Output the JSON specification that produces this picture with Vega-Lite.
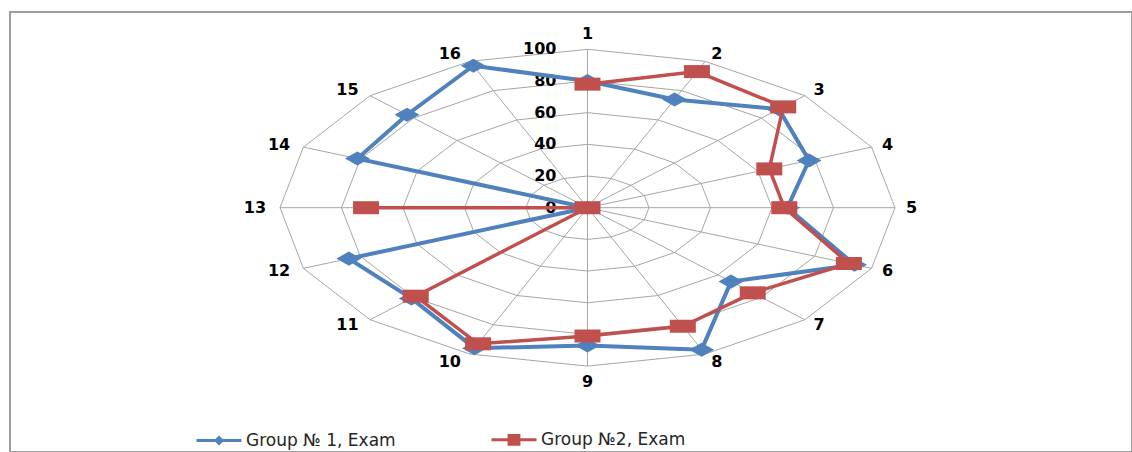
{
  "$schema": "https://vega.github.io/schema/vega-lite/v6.json",
  "width": 1122,
  "height": 440,
  "autosize": {"type": "none"},
  "padding": {"left": 10, "top": 12, "right": 0, "bottom": 0},
  "background": "white",
  "config": {"view": {"stroke": "#9E9E9E", "strokeWidth": 2}, "font": "DejaVu Sans"},
  "datasets": {
    "scores": [
      {"cat": 1, "series": "Group № 1, Exam", "value": 80},
      {"cat": 2, "series": "Group № 1, Exam", "value": 74},
      {"cat": 3, "series": "Group № 1, Exam", "value": 88},
      {"cat": 4, "series": "Group № 1, Exam", "value": 78},
      {"cat": 5, "series": "Group № 1, Exam", "value": 65},
      {"cat": 6, "series": "Group № 1, Exam", "value": 94},
      {"cat": 7, "series": "Group № 1, Exam", "value": 66},
      {"cat": 8, "series": "Group № 1, Exam", "value": 97},
      {"cat": 9, "series": "Group № 1, Exam", "value": 87},
      {"cat": 10, "series": "Group № 1, Exam", "value": 96},
      {"cat": 11, "series": "Group № 1, Exam", "value": 81},
      {"cat": 12, "series": "Group № 1, Exam", "value": 84},
      {"cat": 13, "series": "Group № 1, Exam", "value": 0},
      {"cat": 14, "series": "Group № 1, Exam", "value": 81},
      {"cat": 15, "series": "Group № 1, Exam", "value": 83},
      {"cat": 16, "series": "Group № 1, Exam", "value": 97},
      {"cat": 1, "series": "Group №2, Exam", "value": 78},
      {"cat": 2, "series": "Group №2, Exam", "value": 93},
      {"cat": 3, "series": "Group №2, Exam", "value": 90},
      {"cat": 4, "series": "Group №2, Exam", "value": 64},
      {"cat": 5, "series": "Group №2, Exam", "value": 64},
      {"cat": 6, "series": "Group №2, Exam", "value": 92},
      {"cat": 7, "series": "Group №2, Exam", "value": 76},
      {"cat": 8, "series": "Group №2, Exam", "value": 81},
      {"cat": 9, "series": "Group №2, Exam", "value": 81},
      {"cat": 10, "series": "Group №2, Exam", "value": 93},
      {"cat": 11, "series": "Group №2, Exam", "value": 79},
      {"cat": 12, "series": "Group №2, Exam", "value": 0},
      {"cat": 13, "series": "Group №2, Exam", "value": 72}
    ],
    "axes": [
      {"cat": 1, "label": "1", "rings": [20, 40, 60, 80, 100]},
      {"cat": 2, "label": "2", "rings": [20, 40, 60, 80, 100]},
      {"cat": 3, "label": "3", "rings": [20, 40, 60, 80, 100]},
      {"cat": 4, "label": "4", "rings": [20, 40, 60, 80, 100]},
      {"cat": 5, "label": "5", "rings": [20, 40, 60, 80, 100]},
      {"cat": 6, "label": "6", "rings": [20, 40, 60, 80, 100]},
      {"cat": 7, "label": "7", "rings": [20, 40, 60, 80, 100]},
      {"cat": 8, "label": "8", "rings": [20, 40, 60, 80, 100]},
      {"cat": 9, "label": "9", "rings": [20, 40, 60, 80, 100]},
      {"cat": 10, "label": "10", "rings": [20, 40, 60, 80, 100]},
      {"cat": 11, "label": "11", "rings": [20, 40, 60, 80, 100]},
      {"cat": 12, "label": "12", "rings": [20, 40, 60, 80, 100]},
      {"cat": 13, "label": "13", "rings": [20, 40, 60, 80, 100]},
      {"cat": 14, "label": "14", "rings": [20, 40, 60, 80, 100]},
      {"cat": 15, "label": "15", "rings": [20, 40, 60, 80, 100]},
      {"cat": 16, "label": "16", "rings": [20, 40, 60, 80, 100]}
    ],
    "levels": [
      {"level": 0}, {"level": 20}, {"level": 40}, {"level": 60}, {"level": 80}, {"level": 100}
    ]
  },
  "encoding": {
    "x": {"field": "x", "type": "quantitative", "scale": {"domain": [-187.8, 177.07], "nice": false, "zero": false}, "axis": null},
    "y": {"field": "y", "type": "quantitative", "scale": {"domain": [-154.23, 123.55], "nice": false, "zero": false}, "axis": null}
  },
  "layer": [
    {
      "data": {"name": "axes"},
      "transform": [
        {"flatten": ["rings"]},
        {"calculate": "(datum.cat - 1) * PI / 8", "as": "t"},
        {"calculate": "datum.rings * sin(datum.t)", "as": "x"},
        {"calculate": "datum.rings * cos(datum.t)", "as": "y"}
      ],
      "mark": {"type": "line", "interpolate": "linear-closed", "stroke": "#A6A6A6", "strokeWidth": 1},
      "encoding": {
        "detail": {"field": "rings", "type": "nominal"},
        "order": {"field": "cat", "type": "quantitative"}
      }
    },
    {
      "data": {"name": "axes"},
      "transform": [
        {"calculate": "(datum.cat - 1) * PI / 8", "as": "t"},
        {"calculate": "100 * sin(datum.t)", "as": "x"},
        {"calculate": "100 * cos(datum.t)", "as": "y"}
      ],
      "mark": {"type": "rule", "stroke": "#A6A6A6", "strokeWidth": 1},
      "encoding": {
        "x2": {"datum": 0},
        "y2": {"datum": 0}
      }
    },
    {
      "data": {"name": "levels"},
      "transform": [
        {"calculate": "0", "as": "x"},
        {"calculate": "datum.level", "as": "y"}
      ],
      "mark": {"type": "text", "align": "right", "baseline": "middle", "dx": -31, "fontSize": 16, "fontWeight": "bold", "font": "DejaVu Sans", "fill": "#000000"},
      "encoding": {
        "text": {"field": "level", "type": "quantitative", "format": "d"}
      }
    },
    {
      "data": {"name": "axes"},
      "transform": [
        {"calculate": "(datum.cat - 1) * PI / 8", "as": "t"},
        {"calculate": "sin(datum.t)", "as": "s"},
        {"calculate": "cos(datum.t)", "as": "c"},
        {"calculate": "length(datum.label)", "as": "len"},
        {"calculate": "100 * datum.s + (8 * datum.s + (abs(datum.s) > 0.01 ? (datum.s > 0 ? 1 : -1) * 8.5 * datum.len : 0)) / 3.075", "as": "x"},
        {"calculate": "100 * datum.c + (9.8 * datum.c - (datum.c > 0.01 ? 1.5 : (datum.c < -0.01 ? -1.5 : 0)) + (abs(datum.s) < 0.01 ? (datum.c > 0 ? 7.4 : -7.4) : 0)) / 1.584", "as": "y"}
      ],
      "mark": {"type": "text", "align": "center", "baseline": "middle", "fontSize": 16, "fontWeight": "bold", "font": "DejaVu Sans", "fill": "#000000"},
      "encoding": {
        "text": {"field": "label", "type": "nominal"}
      }
    },
    {
      "data": {"name": "scores"},
      "transform": [
        {"filter": "datum.series == 'Group № 1, Exam'"},
        {"calculate": "(datum.cat - 1) * PI / 8", "as": "t"},
        {"calculate": "datum.value * sin(datum.t)", "as": "x"},
        {"calculate": "datum.value * cos(datum.t)", "as": "y"}
      ],
      "mark": {"type": "line", "interpolate": "linear-closed", "strokeWidth": 4},
      "encoding": {
        "color": {
          "field": "series", "type": "nominal",
          "scale": {"domain": ["Group № 1, Exam", "Group №2, Exam"], "range": ["#4F81BD", "#C0504D"]},
          "legend": {
            "title": null, "orient": "none", "legendX": 185, "legendY": 403.5,
            "direction": "horizontal", "symbolSize": 2025, "symbolStrokeWidth": 3,
            "labelFontSize": 17, "labelFont": "DejaVu Sans", "labelColor": "#262626",
            "labelOffset": 3, "labelLimit": 0, "columnPadding": 89, "padding": 0,
            "symbolType": "M-1,0H1",
            "encode": {
              "symbols": {
                "update": {
                  "shape": {"signal": "datum.value == 'Group № 1, Exam' ? 'M-1,0H1M0,-0.13L0.13,0L0,0.13L-0.13,0Z' : 'M-1,0H1M-0.22,-0.19H0.22V0.19H-0.22Z'"},
                  "fill": {"scale": "color", "field": "value"},
                  "stroke": {"scale": "color", "field": "value"},
                  "strokeWidth": {"value": 3},
                  "opacity": {"value": 1}
                }
              }
            }
          }
        },
        "order": {"field": "cat", "type": "quantitative"}
      }
    },
    {
      "data": {"name": "scores"},
      "transform": [
        {"filter": "datum.series == 'Group № 1, Exam'"},
        {"calculate": "(datum.cat - 1) * PI / 8", "as": "t"},
        {"calculate": "datum.value * sin(datum.t)", "as": "x"},
        {"calculate": "datum.value * cos(datum.t)", "as": "y"}
      ],
      "mark": {"type": "point", "shape": "M0,-0.54L0.96,0L0,0.54L-0.96,0Z", "size": 676, "filled": true, "opacity": 1, "strokeWidth": 0},
      "encoding": {
        "color": {"field": "series", "type": "nominal"}
      }
    },
    {
      "data": {"name": "scores"},
      "transform": [
        {"filter": "datum.series == 'Group №2, Exam'"},
        {"calculate": "(datum.cat - 1) * PI / 8", "as": "t"},
        {"calculate": "datum.value * sin(datum.t)", "as": "x"},
        {"calculate": "datum.value * cos(datum.t)", "as": "y"}
      ],
      "mark": {"type": "line", "interpolate": "linear", "strokeWidth": 3.5},
      "encoding": {
        "color": {"field": "series", "type": "nominal"},
        "order": {"field": "cat", "type": "quantitative"}
      }
    },
    {
      "data": {"name": "scores"},
      "transform": [
        {"filter": "datum.series == 'Group №2, Exam'"},
        {"calculate": "(datum.cat - 1) * PI / 8", "as": "t"},
        {"calculate": "datum.value * sin(datum.t)", "as": "x"},
        {"calculate": "datum.value * cos(datum.t)", "as": "y"}
      ],
      "mark": {"type": "point", "shape": "M-1,-0.5H1V0.5H-1Z", "size": 676, "filled": true, "opacity": 1, "strokeWidth": 0},
      "encoding": {
        "color": {"field": "series", "type": "nominal"}
      }
    }
  ]
}
